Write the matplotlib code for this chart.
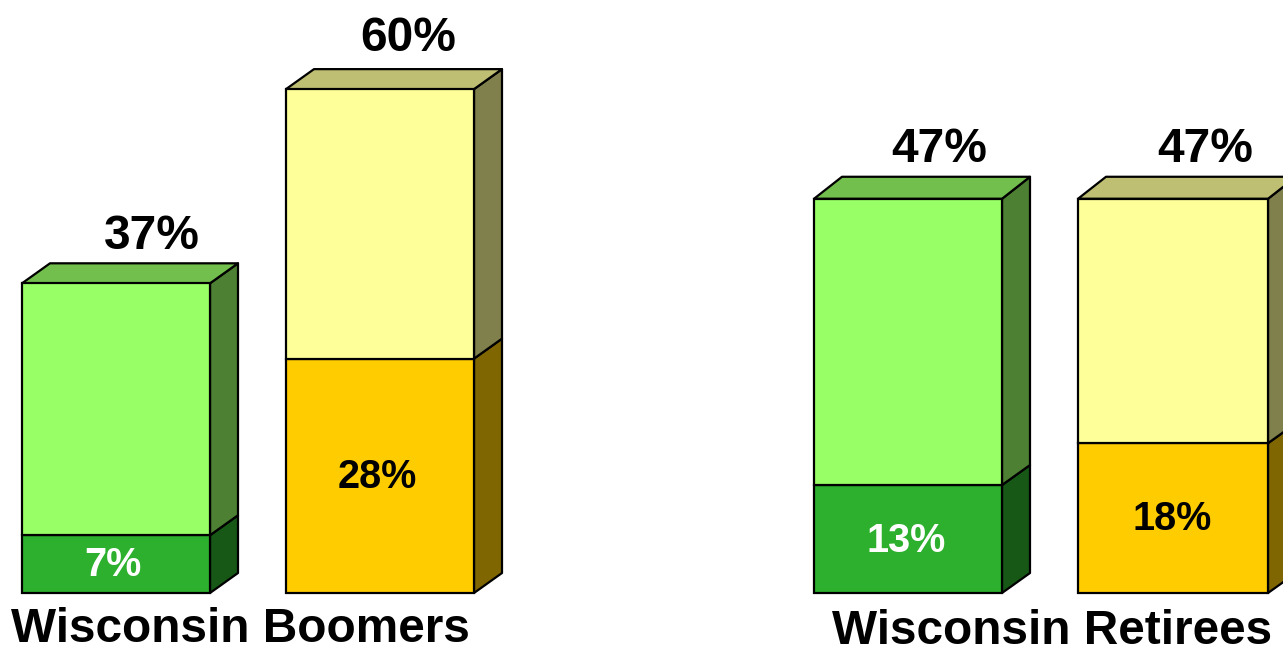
import matplotlib
matplotlib.use("Agg")
import matplotlib.pyplot as plt
from matplotlib.patches import Polygon

plt.rcParams['font.family'] = ['Liberation Sans', 'DejaVu Sans']

groups = ["Wisconsin Boomers", "Wisconsin Retirees"]
green_totals = [37, 47]
green_lower = [7, 13]
yellow_totals = [60, 47]
yellow_lower = [28, 18]
# heights as drawn in the picture (the drawn bars differ a little from their labels)
green_total_heights = [37.0, 47.1]
green_lower_heights = [6.9, 12.9]
yellow_total_heights = [60.2, 47.1]
yellow_lower_heights = [28.0, 17.9]

W, H = 1283, 646
BASE = 593
SCALE = 8.37
fig = plt.figure(figsize=(W / 100, H / 100), dpi=100)
ax = fig.add_axes([0, 0, 1, 1])
ax.set_xlim(0, W)
ax.set_ylim((BASE - H) / SCALE, BASE / SCALE)
ax.axis('off')

DX, DY = 28, 20 / SCALE
LW = 1.6


def box(x, w, lo, hi, face, side, dy_top):
    ax.bar(x, hi - lo, w, bottom=lo, align='edge', color=face,
           edgecolor='black', linewidth=LW, zorder=3)
    ax.add_patch(Polygon([(x + w, lo), (x + w + DX, lo + DY),
                          (x + w + DX, hi + dy_top), (x + w, hi)],
                         closed=True, facecolor=side, edgecolor='black',
                         linewidth=LW, joinstyle='round', zorder=2))


def top(x, w, hi, face, dy_top):
    ax.add_patch(Polygon([(x, hi), (x + DX, hi + dy_top), (x + w + DX, hi + dy_top),
                          (x + w, hi)], closed=True, facecolor=face,
                         edgecolor='black', linewidth=LW, joinstyle='round', zorder=2))


def stacked(x, w, lower, total, lh, th, col_low, side_low, col_up, side_up, col_top,
            txt, inner_xy, total_xy, dy_top):
    box(x, w, 0, lh, col_low, side_low, DY)
    box(x, w, lh, th, col_up, side_up, dy_top)
    top(x, w, th, col_top, dy_top)
    ax.text(inner_xy[0], (BASE - inner_xy[1]) / SCALE, f"{lower}%", ha='center',
            va='center', fontsize=28.5, fontweight='bold', color=txt, zorder=5)
    ax.text(total_xy[0], (BASE - total_xy[1]) / SCALE, f"{total}%", ha='center',
            va='center', fontsize=34.5, fontweight='bold', color='black', zorder=5)


xs_green = [22, 814]
xs_yellow = [286, 1078]
widths_green = [188, 188]
widths_yellow = [188, 190]
inner_green = [(112.5, 565.5), (906, 541)]
inner_yellow = [(377.5, 477.5), (1172, 519.5)]
label_green = [(152, 236.5), (939, 150)]
label_yellow = [(408, 38), (1205.5, 150)]
depth_top = [20 / SCALE, 22 / SCALE]
title_x = [240, 1052.5]
title_base = [642, 644]
for i in range(2):
    stacked(xs_green[i], widths_green[i], green_lower[i], green_totals[i],
            green_lower_heights[i], green_total_heights[i],
            '#2DB02D', '#175817', '#99FF66', '#4D8033', '#73BF4D', 'white',
            inner_green[i], label_green[i], depth_top[i])
    stacked(xs_yellow[i], widths_yellow[i], yellow_lower[i], yellow_totals[i],
            yellow_lower_heights[i], yellow_total_heights[i],
            '#FFCC00', '#806600', '#FFFF99', '#80804D', '#BFBF73', 'black',
            inner_yellow[i], label_yellow[i], depth_top[i])
    ax.text(title_x[i], (BASE - title_base[i]) / SCALE, groups[i], ha='center',
            va='baseline', fontsize=34.4, fontweight='bold', color='black')

fig.savefig("out.png", dpi=100)
